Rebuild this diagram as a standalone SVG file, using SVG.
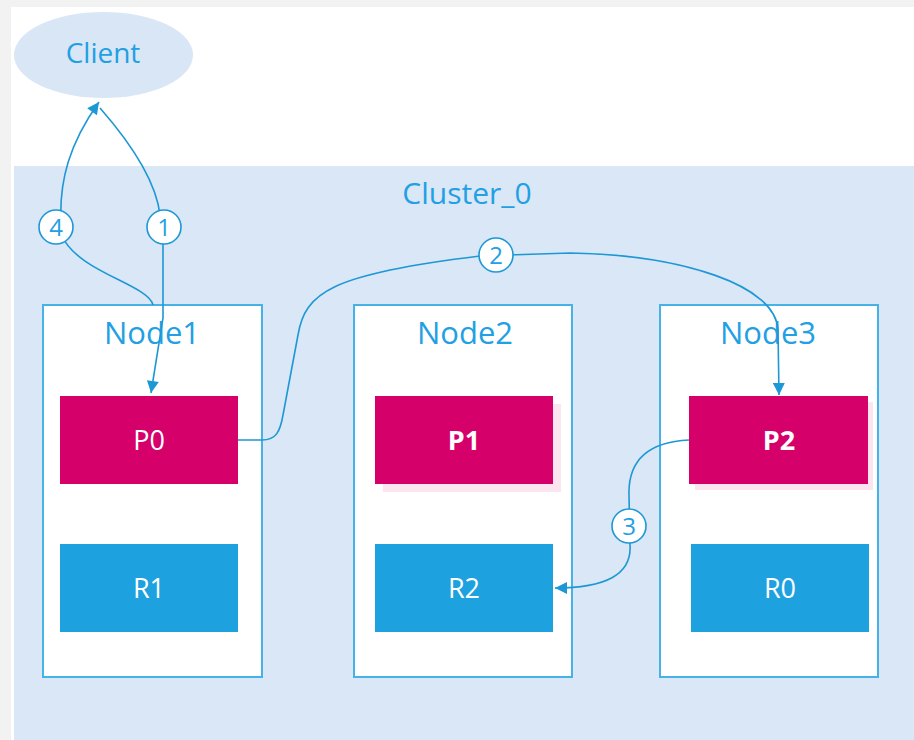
<svg xmlns="http://www.w3.org/2000/svg" width="914" height="740" viewBox="0 0 914 740">
<style>
text{font-family:"Open Sans","Noto Sans","Liberation Sans",sans-serif;}
.lbl{fill:#22a0e3;text-anchor:middle;}
.node{fill:#ffffff;stroke:#45b3e8;stroke-width:2;}
.p{fill:#d6006b;}
.r{fill:#1ea1df;}
.sh{fill:#fbe6f0;}
.pt{fill:#ffffff;font-size:27px;text-anchor:middle;}
.conn{fill:none;stroke:#1d98d5;stroke-width:1.6;}
.num{fill:#ffffff;stroke:#1d98d5;stroke-width:1.6;}
.nt{fill:#22a0e3;font-size:24px;text-anchor:middle;}
</style>
<defs>
<marker id="arr" viewBox="0 0 10 10" refX="10" refY="5" markerWidth="13" markerHeight="12" markerUnits="userSpaceOnUse" orient="auto">
<path d="M0,0 L10,5 L0,10 z" fill="#1d98d5"/>
</marker>
</defs>
<rect x="0" y="0" width="914" height="740" fill="#f2f2f2"/>
<rect x="11" y="7" width="903" height="733" fill="#ffffff"/>
<g id="cluster">
<rect x="14" y="166" width="900" height="574" fill="#dae7f6"/>
<text class="lbl" x="467" y="204" font-size="30">Cluster_0</text>
</g>
<g id="client">
<ellipse cx="103.5" cy="55" rx="89.5" ry="43" fill="#d9e6f6"/>
<text class="lbl" x="103" y="63" font-size="28">Client</text>
</g>
<g id="node1">
<rect class="node" x="43" y="305" width="219" height="372"/>
<text class="lbl" x="152" y="344" font-size="31">Node1</text>
</g>
<g id="node2">
<rect class="node" x="354" y="305" width="218" height="372"/>
<text class="lbl" x="465" y="344" font-size="31">Node2</text>
</g>
<g id="node3">
<rect class="node" x="660" y="305" width="218" height="372"/>
<text class="lbl" x="768" y="344" font-size="31">Node3</text>
</g>
<g id="P0">
<rect class="p" x="60" y="396" width="178" height="88"/>
<text class="pt" x="149" y="450">P0</text>
</g>
<g id="P1">
<rect class="sh" x="383" y="404" width="178" height="88"/>
<rect class="p" x="375" y="396" width="178" height="88"/>
<text class="pt" x="464" y="450" font-weight="bold">P1</text>
</g>
<g id="P2">
<rect class="sh" x="695" y="402" width="178" height="88"/>
<rect class="p" x="689" y="396" width="179" height="88"/>
<text class="pt" x="779" y="450" font-weight="bold">P2</text>
</g>
<g id="R1">
<rect class="r" x="60" y="544" width="178" height="88"/>
<text class="pt" x="149" y="598">R1</text>
</g>
<g id="R2">
<rect class="r" x="375" y="544" width="178" height="88"/>
<text class="pt" x="464" y="598">R2</text>
</g>
<g id="R0">
<rect class="r" x="691" y="544" width="178" height="88"/>
<text class="pt" x="780" y="598">R0</text>
</g>
<g id="connectors">
<path class="conn" d="M153 305 C149 285 78 272 62 236 C56 180 72 140 99 102" marker-end="url(#arr)"/>
<path class="conn" d="M100 108 C128 140 156 180 160 215 L163 240 L163 318 L151 393" marker-end="url(#arr)"/>
<path class="conn" d="M238 440 L262 440 C276 440 280 432 283 415 L298 335 C305 293 330 274 480 256 L570 253 C682 255 776 285 778 330 L779 395" marker-end="url(#arr)"/>
<path class="conn" d="M689 440 C648 442 628 460 629 495 L630 545 C632 575 605 588 555 588" marker-end="url(#arr)"/>
<circle class="num" cx="56" cy="227" r="17"/>
<text class="nt" x="56" y="236">4</text>
<circle class="num" cx="164" cy="227" r="17"/>
<text class="nt" x="164" y="236">1</text>
<circle class="num" cx="496" cy="255" r="17"/>
<text class="nt" x="496" y="264">2</text>
<circle class="num" cx="629" cy="526" r="17"/>
<text class="nt" x="629" y="535">3</text>
</g>
</svg>
